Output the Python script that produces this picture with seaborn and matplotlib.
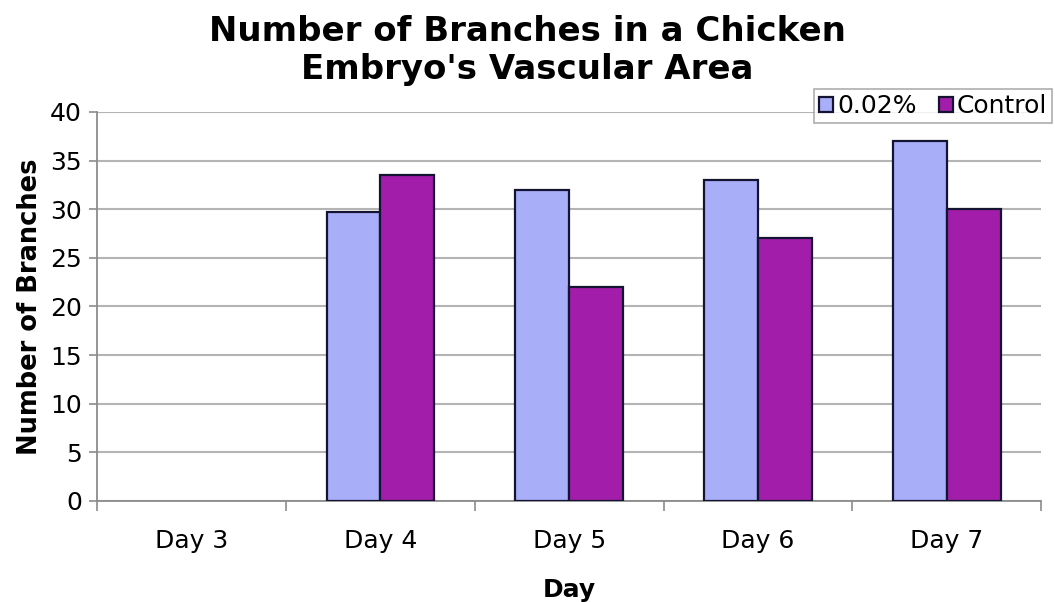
import numpy as np
import pandas as pd
import matplotlib
matplotlib.use("Agg")
import matplotlib.pyplot as plt
import seaborn as sns

days = ["Day 3", "Day 4", "Day 5", "Day 6", "Day 7"]
treated = [np.nan, 29.7, 32.0, 33.0, 37.0]
control = [np.nan, 33.5, 22.0, 27.0, 30.0]
series_names = ["0.02%", "Control"]
yticks = [0, 5, 10, 15, 20, 25, 30, 35, 40]

df = pd.DataFrame({
    "Day": days * 2,
    "Value": treated + control,
    "Series": [series_names[0]] * len(days) + [series_names[1]] * len(days),
})

sns.set_style("white")
plt.rcParams["font.family"] = ["DejaVu Sans"]
plt.rcParams["text.color"] = "black"
plt.rcParams["axes.labelcolor"] = "black"
plt.rcParams["xtick.color"] = "black"
plt.rcParams["ytick.color"] = "black"

fig = plt.figure(figsize=(10.55, 6.02), dpi=100)
ax = fig.add_axes([0.092, 0.168, 0.895, 0.646])

palette = {"0.02%": "#A8AEF8", "Control": "#A21DAA"}
sns.barplot(data=df, x="Day", y="Value", hue="Series", order=days,
            hue_order=series_names, palette=palette, width=0.57,
            edgecolor="#141432", linewidth=1.6, saturation=1, ax=ax, zorder=3)

ax.set_ylim(0, 40)
ax.set_xlim(-0.5, len(days) - 0.5)
ax.set_yticks(yticks)
ax.yaxis.grid(True, color="#b4b4b4", linewidth=1.5, zorder=0)
ax.set_axisbelow(True)
for s in ["top", "right"]:
    ax.spines[s].set_visible(False)
for s in ["left", "bottom"]:
    ax.spines[s].set_color("#8c8c8c")
    ax.spines[s].set_linewidth(1.3)

ax.tick_params(axis="y", left=True, length=6, width=1.2, color="#8c8c8c",
               labelcolor="black", labelsize=18, pad=5, direction="out")
ax.set_xticks(range(len(days)))
ax.set_xticklabels(days, fontsize=18)
ax.tick_params(axis="x", which="major", bottom=True, length=0, pad=20, labelcolor="black")
ax.set_xticks(np.arange(-0.5, len(days), 1.0), minor=True)
ax.tick_params(axis="x", which="minor", bottom=True, length=7, width=1.2,
               color="#8c8c8c", direction="out")

ax.set_xlabel("Day", fontsize=18, fontweight="bold", labelpad=18, color="black")
ax.set_ylabel("Number of Branches", fontsize=18.5, fontweight="bold", labelpad=5, color="black")

fig.suptitle("Number of Branches in a Chicken\nEmbryo's Vascular Area",
             fontsize=24.5, fontweight="bold", x=0.5, y=0.975, linespacing=1.2, color="black")

leg = ax.legend(loc="upper right", bbox_to_anchor=(0.997, 0.852), bbox_transform=fig.transFigure,
                ncol=2, fontsize=18, frameon=True, fancybox=False, edgecolor="#9a9a9a",
                handlelength=0.55, handleheight=0.55, handletextpad=0.15, columnspacing=0.9,
                borderpad=0.2, borderaxespad=0)
leg.get_frame().set_linewidth(1.2)
for t in leg.get_texts():
    t.set_color("black")

fig.savefig("out.png", dpi=100, facecolor="white")
